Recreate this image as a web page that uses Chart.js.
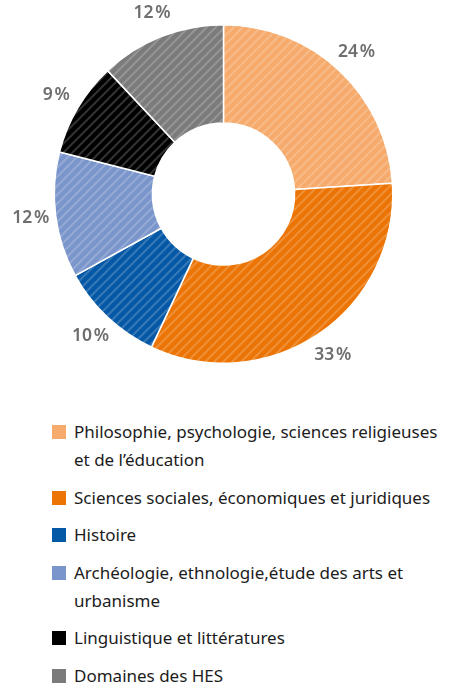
<!DOCTYPE html>
<html>
<head>
<meta charset="utf-8">
<script src="https://cdn.jsdelivr.net/npm/chart.js@4/dist/chart.umd.min.js"></script>
<style>
 body { margin: 0; background: #fff; font-family: "Noto Sans", sans-serif; }
 #wrap { position: relative; width: 471px; height: 687px; }
 #chartBox { position: absolute; left: 0; top: 0; width: 471px; height: 390px; }
 #legend { position: absolute; left: 52px; top: 418px; color: #1c1c1c; font-size: 17px; }
 .item { display: flex; line-height: 28px; margin-bottom: 9.5px; white-space: nowrap; }
 .box { width: 14px; height: 14px; margin-top: 7px; margin-right: 8px; flex: none; }
</style>
</head>
<body>
<div id="wrap">
 <div id="chartBox"><canvas id="chart" width="471" height="390"></canvas></div>
 <div id="legend"></div>
</div>
<script>
const categories = [
 ["Philosophie, psychologie, sciences religieuses", "et de l’éducation"],
 ["Sciences sociales, économiques et juridiques"],
 ["Histoire"],
 ["Archéologie, ethnologie,étude des arts et", "urbanisme"],
 ["Linguistique et littératures"],
 ["Domaines des HES"]
];
const shares = [24, 33, 10, 12, 9, 12];
const colors = ["#F6AB6C", "#EC7404", "#0558A6", "#7A95CB", "#000000", "#7B7B7B"];

// diagonal "/" hatching over the base colour
function hatch(color) {
 const s = 9;
 const c = document.createElement("canvas");
 c.width = s; c.height = s;
 const g = c.getContext("2d");
 g.fillStyle = color;
 g.fillRect(0, 0, s, s);
 g.strokeStyle = "rgba(255,255,255,0.2)";
 g.lineWidth = 2;
 g.beginPath();
 g.moveTo(-2, s + 2); g.lineTo(s + 2, -2);
 g.moveTo(-2, 2); g.lineTo(2, -2);
 g.moveTo(s - 2, s + 2); g.lineTo(s + 2, s - 2);
 g.stroke();
 return g.createPattern(c, "repeat");
}

const pctLabels = {
 id: "pctLabels",
 afterDatasetsDraw(chart) {
 const ctx = chart.ctx;
 const meta = chart.getDatasetMeta(0);
 ctx.save();
 ctx.font = "600 17.5px 'Noto Sans', sans-serif";
 ctx.fillStyle = "#6e6e6e";
 ctx.textAlign = "center";
 ctx.textBaseline = "middle";
 meta.data.forEach((arc, i) => {
 const a = (arc.startAngle + arc.endAngle) / 2;
 const r = arc.outerRadius + 25;
 ctx.fillText(shares[i] + "\u200a%", arc.x + Math.cos(a) * r, arc.y + Math.sin(a) * r);
 });
 ctx.restore();
 }
};

const chart = new Chart(document.getElementById("chart").getContext("2d"), {
 type: "doughnut",
 data: {
 labels: categories,
 datasets: [{
 data: shares,
 backgroundColor: colors.map(hatch),
 borderColor: "#ffffff",
 borderWidth: 1.5
 }]
 },
 options: {
 responsive: false,
 animation: false,
 cutout: "42%",
 layout: { padding: { top: 24, bottom: 26, left: 0, right: 24 } },
 plugins: { legend: { display: false }, tooltip: { enabled: false } }
 },
 plugins: [pctLabels]
});

const legend = document.getElementById("legend");
categories.forEach((lines, i) => {
 const item = document.createElement("div");
 item.className = "item";
 const box = document.createElement("div");
 box.className = "box";
 box.style.background = colors[i];
 const txt = document.createElement("div");
 txt.innerHTML = lines.join("<br>");
 item.appendChild(box);
 item.appendChild(txt);
 legend.appendChild(item);
});
</script>
</body>
</html>
